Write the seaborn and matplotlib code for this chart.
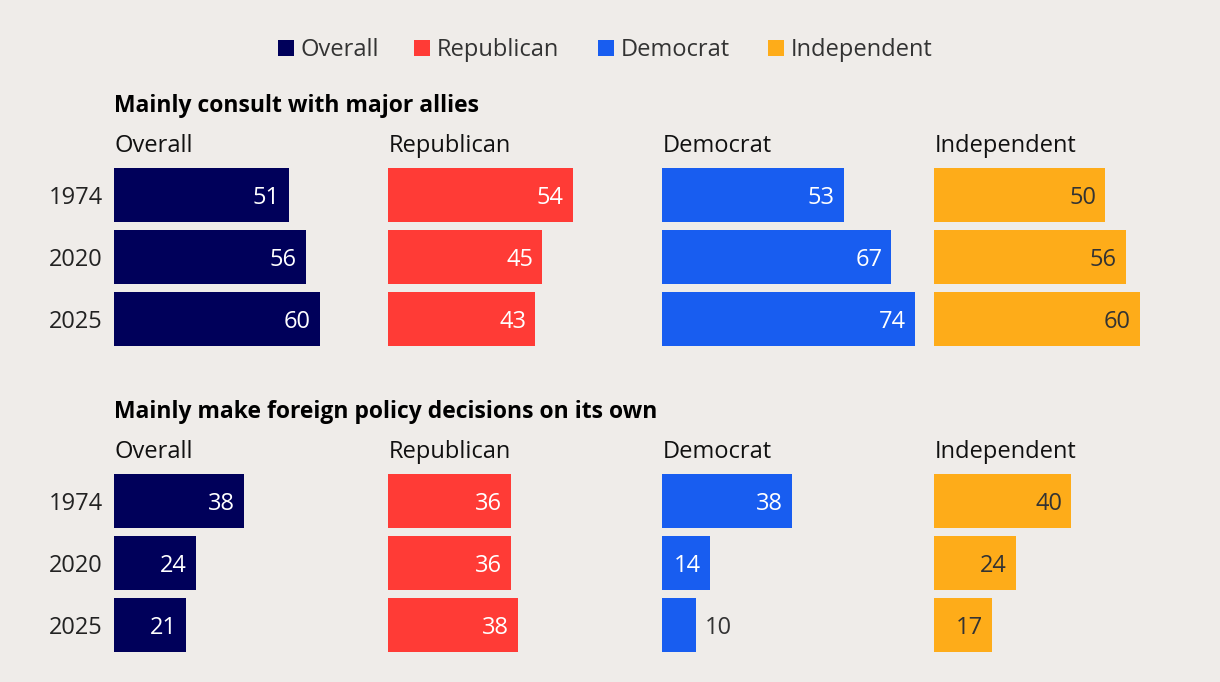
import matplotlib
matplotlib.use("Agg")
import matplotlib.pyplot as plt
import seaborn as sns
import pandas as pd
from matplotlib.patches import Rectangle

years = ["1974", "2020", "2025"]
groups = ["Overall", "Republican", "Democrat", "Independent"]
consult_overall = [51, 56, 60]
consult_republican = [54, 45, 43]
consult_democrat = [53, 67, 74]
consult_independent = [50, 56, 60]
own_overall = [38, 24, 21]
own_republican = [36, 36, 38]
own_democrat = [38, 14, 10]
own_independent = [40, 24, 17]
section_titles = ["Mainly consult with major allies", "Mainly make foreign policy decisions on its own"]

sections = [
    [consult_overall, consult_republican, consult_democrat, consult_independent],
    [own_overall, own_republican, own_democrat, own_independent],
]
colors = ["#00005A", "#FF3B36", "#185DF0", "#FEAC19"]
label_colors = ["white", "white", "white", "#333333"]

W, H = 1220, 682
BG = "#EFECE9"
sns.set_theme(style="white")
plt.rcParams["font.family"] = ["Open Sans", "DejaVu Sans"]

fig = plt.figure(figsize=(W / 100, H / 100), dpi=100)
fig.patch.set_facecolor(BG)

def fx(x):
    return x / W

def fy(y):
    return 1 - y / H

panel_x = [114, 388, 662, 934]
panel_w = 274
xmax = 80
sec_top = [164, 470]
axes_h = 186
title_base = [112, 418]
header_base = [152, 458]
FS = 17
HALF_CAP = 8.5

for s, vals_list in enumerate(sections):
    fig.text(fx(114), fy(title_base[s]), section_titles[s], fontsize=16.5, fontweight="bold",
             color="black", va="baseline", ha="left")
    for g, vals in enumerate(vals_list):
        left = panel_x[g]
        ax = fig.add_axes([fx(left), fy(sec_top[s] + axes_h), fx(panel_w), axes_h / H])
        ax.set_facecolor(BG)
        ax.patch.set_alpha(0)
        df = pd.DataFrame({"year": years, "value": vals})
        sns.barplot(data=df, x="value", y="year", order=years, color=colors[g],
                    width=54 / 62, orient="h", saturation=1, linewidth=0, ax=ax)
        ax.set_xlim(0, xmax)
        ax.set_ylim(2.5, -0.5)
        for sp in ax.spines.values():
            sp.set_visible(False)
        ax.set_xticks([])
        ax.set_yticks([])
        ax.set_xlabel("")
        ax.set_ylabel("")
        ax.set_clip_on(False)
        if g == 0:
            for i, yr in enumerate(years):
                ax.annotate(yr, xy=(0, i), xytext=(-11, -HALF_CAP), textcoords="offset pixels",
                            ha="right", va="baseline", fontsize=FS, color="#222222",
                            annotation_clip=False)
        for i, v in enumerate(vals):
            if v * panel_w / xmax < 45:
                ax.annotate(str(v), xy=(v, i), xytext=(9, -HALF_CAP), textcoords="offset pixels",
                            ha="left", va="baseline", fontsize=FS, color="#333333")
            else:
                ax.annotate(str(v), xy=(v, i), xytext=(-9, -HALF_CAP), textcoords="offset pixels",
                            ha="right", va="baseline", fontsize=FS, color=label_colors[g])
        fig.text(fx(left + 1), fy(header_base[s]), groups[g], fontsize=FS, color="#111111",
                 va="baseline", ha="left")

# legend
leg_x = [278, 414, 598, 768]
for g in range(4):
    fig.patches.append(Rectangle((fx(leg_x[g]), fy(56)), fx(16), 16 / H,
                                 transform=fig.transFigure, facecolor=colors[g],
                                 edgecolor="none"))
    fig.text(fx(leg_x[g] + 23), fy(56), groups[g], fontsize=FS, color="#333333",
             va="baseline", ha="left")

fig.savefig("out.png", dpi=100, facecolor=BG)
